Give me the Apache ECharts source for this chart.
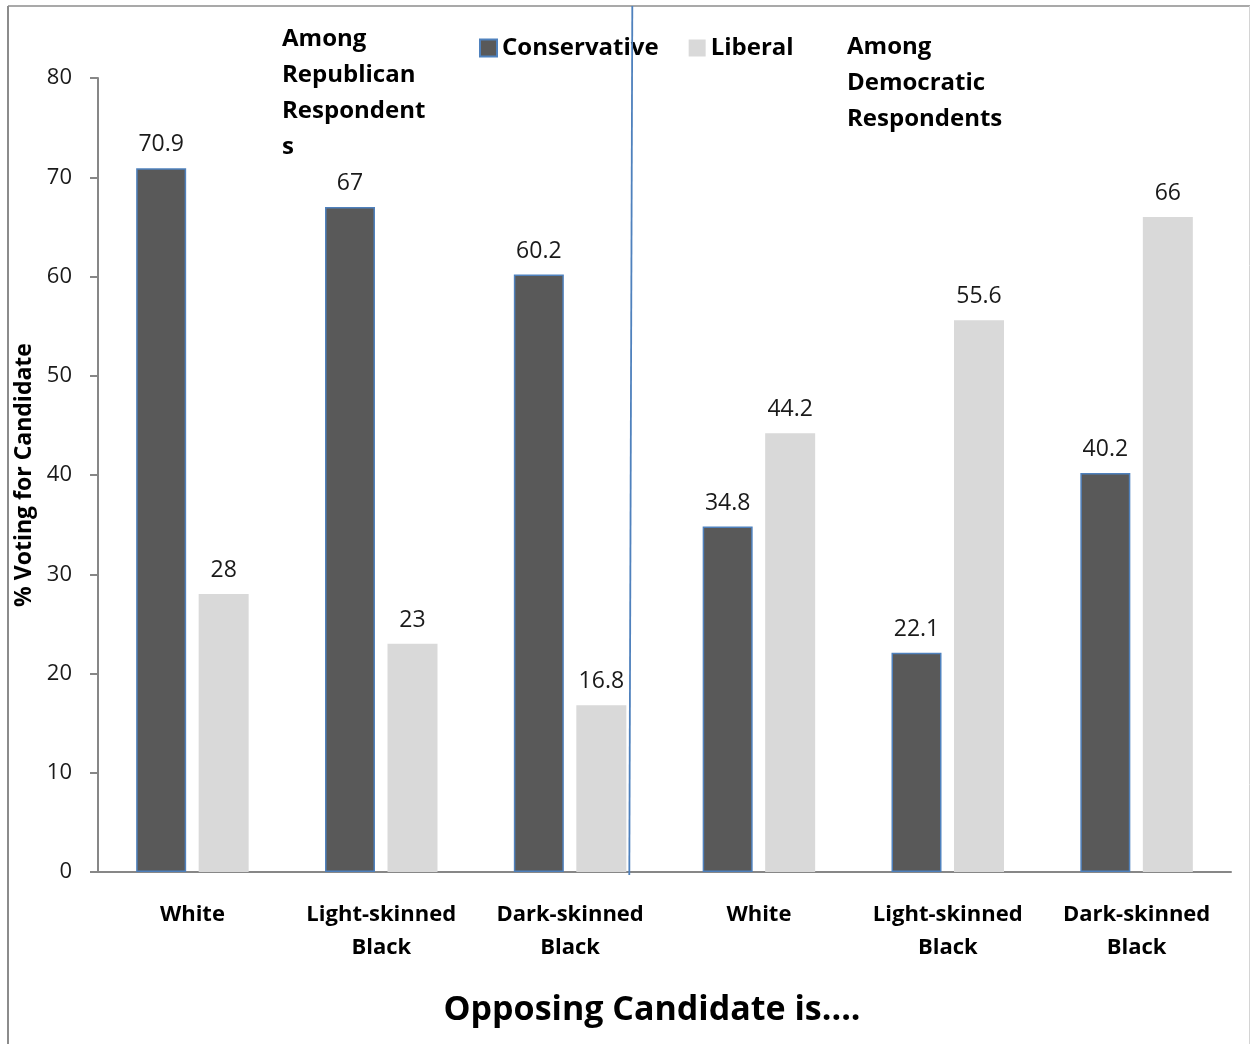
<!DOCTYPE html>
<html>
<head>
<meta charset="utf-8">
<title>Opposing Candidate</title>
<script src="https://cdn.jsdelivr.net/npm/echarts@6/dist/echarts.min.js"></script>
<style>
  html, body { margin: 0; padding: 0; background: #ffffff; }
  #chart { width: 1255px; height: 1044px; }
</style>
</head>
<body>
<div id="chart"></div>
<script>
// Opposing candidate's race, split by respondent party
const categories = [
  'White', 'Light-skinned\nBlack', 'Dark-skinned\nBlack',
  'White', 'Light-skinned\nBlack', 'Dark-skinned\nBlack'
];
const conservative = [70.9, 67, 60.2, 34.8, 22.1, 40.2];
const liberal = [28, 23, 16.8, 44.2, 55.6, 66];
const yTicks = { min: 0, max: 80, interval: 10 };

const FONT = '"Open Sans", Lato, sans-serif';
const chart = echarts.init(document.getElementById('chart'), null, { renderer: 'canvas' });

const valueLabel = {
  show: true,
  position: 'top',
  distance: 12,
  color: '#1a1a1a',
  fontFamily: FONT,
  fontSize: 23
};

chart.setOption({
  backgroundColor: '#ffffff',
  animation: false,
  grid: { left: 98, right: 24, top: 78, bottom: 172, containLabel: false },
  legend: {
    left: 479,
    top: 36,
    padding: 0,
    itemWidth: 17,
    itemHeight: 17,
    itemGap: 30,
    icon: 'rect',
    textStyle: { fontFamily: FONT, fontSize: 24, fontWeight: 'bold', color: '#000' },
    data: ['Conservative', 'Liberal']
  },
  xAxis: {
    type: 'category',
    data: categories,
    axisLine: { lineStyle: { color: '#878787', width: 2 } },
    axisTick: { show: false },
    axisLabel: {
      interval: 0,
      margin: 26,
      fontFamily: FONT,
      fontSize: 22,
      fontWeight: 'bold',
      color: '#000',
      lineHeight: 33
    }
  },
  yAxis: {
    type: 'value',
    min: yTicks.min,
    max: yTicks.max,
    interval: yTicks.interval,
    name: '% Voting for Candidate',
    nameLocation: 'middle',
    nameGap: 54,
    nameRotate: 90,
    nameTextStyle: { fontFamily: FONT, fontSize: 23, fontWeight: 'bold', color: '#000' },
    splitLine: { show: false },
    axisLine: { show: true, lineStyle: { color: '#878787', width: 2 } },
    axisTick: { show: true, length: 8, lineStyle: { color: '#878787', width: 2 } },
    axisLabel: { margin: 26, fontFamily: FONT, fontSize: 22, color: '#1a1a1a' }
  },
  series: [
    {
      name: 'Conservative',
      type: 'bar',
      data: conservative,
      barWidth: 50,
      barGap: '25%',
      itemStyle: { color: '#595959', borderColor: '#4f81bd', borderWidth: 1.5 },
      label: valueLabel
    },
    {
      name: 'Liberal',
      type: 'bar',
      data: liberal,
      barWidth: 50,
      itemStyle: { color: '#d9d9d9' },
      label: valueLabel
    }
  ],
  graphic: [
    // frame
    { type: 'line', shape: { x1: 8, y1: 6, x2: 8, y2: 1044 }, style: { stroke: '#8c8c8c', lineWidth: 2 } },
    { type: 'line', shape: { x1: 8, y1: 6, x2: 1250, y2: 6 }, style: { stroke: '#8c8c8c', lineWidth: 1.5 } },
    { type: 'line', shape: { x1: 1249.5, y1: 6, x2: 1249.5, y2: 1044 }, style: { stroke: '#d4d4d4', lineWidth: 1 } },
    // party divider
    { type: 'line', z: 10, shape: { x1: 632.3, y1: 6, x2: 629.3, y2: 875 }, style: { stroke: '#4f81bd', lineWidth: 1.8 } },
    {
      type: 'text', left: 282, top: 21,
      style: {
        text: 'Among\nRepublican\nRespondent\ns',
        fontFamily: FONT, fontSize: 24, fontWeight: 'bold', fill: '#000', lineHeight: 36
      }
    },
    {
      type: 'text', left: 847, top: 29,
      style: {
        text: 'Among\nDemocratic\nRespondents',
        fontFamily: FONT, fontSize: 24, fontWeight: 'bold', fill: '#000', lineHeight: 36
      }
    },
    {
      type: 'text', x: 652, y: 1010,
      style: {
        text: 'Opposing Candidate is....',
        fontFamily: FONT, fontSize: 34, fontWeight: 'bold', fill: '#000',
        align: 'center', verticalAlign: 'middle'
      }
    }
  ]
});
</script>
</body>
</html>
